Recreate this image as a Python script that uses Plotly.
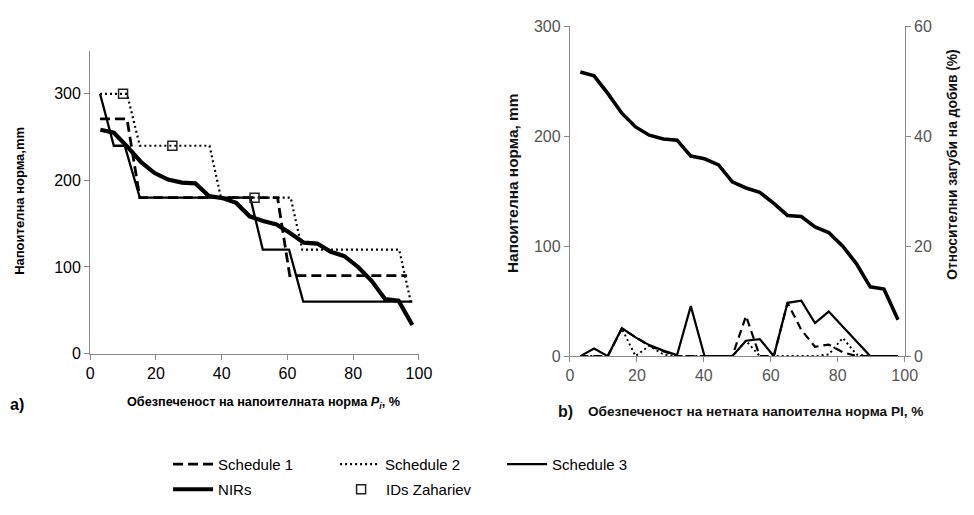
import plotly.graph_objects as go

W, H = 974, 515

# ---------------- data ----------------
# exceedance probability grid (%) used for NIRs and yield losses
prob = [3.1, 7.2, 11.3, 15.5, 19.6, 23.7, 27.9, 32.0, 36.1, 40.2, 44.4, 48.5,
        52.6, 56.7, 60.9, 65.0, 69.1, 73.2, 77.3, 81.5, 85.6, 89.7, 93.8, 98.0]
nirs = [258.5, 255, 239, 221, 208.5, 201, 197.5, 196.5, 182, 179.5, 174, 158.5,
        153, 149, 139, 128, 127, 117.5, 112.5, 100, 84, 63, 61, 33]

# irrigation schedules (vertices of the stepped curves), panel a)
sched1_x = [3, 11.2, 15.1, 57.0, 60.7, 96.4]
sched1_y = [271, 271, 180, 180, 90, 90]
sched2_x = [3, 11.2, 15.1, 36.3, 39.8, 61.0, 64.5, 94.0, 97.5]
sched2_y = [300, 300, 240, 240, 180, 180, 120, 120, 60]
sched3_x = [3, 7.2, 10.5, 15.1, 48.7, 52.5, 60.5, 64.8, 98.0]
sched3_y = [300, 240, 240, 180, 180, 120, 120, 60, 60]

# IDs Zahariev
ids_x = [10, 25, 50]
ids_y = [300, 240, 180]

# relative yield losses (%), panel b)
loss1 = [0, 0, 0, 5.0, 3.4, 1.9, 0.9, 0, 0, 0, 0, 0,
         7.3, 0, 0, 9.7, 4.8, 1.7, 2.1, 0.7, 0, 0, 0, 0]
loss2 = [0, 0, 0, 5.0, 0, 1.9, 0.3, 0, 0, 0, 0, 0,
         2.8, 0, 0, 0, 0, 0, 0.3, 3.3, 0.3, 0, 0, 0]
loss3 = [0, 1.4, 0, 5.1, 3.4, 2.0, 1.0, 0.2, 9.1, 0, 0, 0,
         2.8, 3.1, 0, 9.7, 10.1, 6.0, 8.1, 5.4, 2.7, 0, 0, 0]

x_ticks = [0, 20, 40, 60, 80, 100]
ya_ticks = [0, 100, 200, 300]
yb_ticks = [0, 100, 200, 300]
yb2_ticks = [0, 20, 40, 60]

# ---------------- figure ----------------
FONT = "Liberation Sans, Arial, sans-serif"
fig = go.Figure()

# panel a)
fig.add_trace(go.Scatter(x=sched1_x, y=sched1_y, mode="lines", name="Schedule 1",
                         line=dict(color="black", width=2.8, dash="10px,5px"),
                         xaxis="x", yaxis="y", legend="legend"))
fig.add_trace(go.Scatter(x=sched2_x, y=sched2_y, mode="lines", name="Schedule 2",
                         line=dict(color="black", width=2.2, dash="2px,3px"),
                         xaxis="x", yaxis="y", legend="legend"))
fig.add_trace(go.Scatter(x=sched3_x, y=sched3_y, mode="lines", name="Schedule 3",
                         line=dict(color="black", width=2.3),
                         xaxis="x", yaxis="y", legend="legend"))
fig.add_trace(go.Scatter(x=prob, y=nirs, mode="lines", name="NIRs",
                         line=dict(color="black", width=4.2),
                         xaxis="x", yaxis="y", legend="legend2"))
fig.add_trace(go.Scatter(x=ids_x, y=ids_y, mode="markers", name="IDs Zahariev",
                         marker=dict(symbol="square-open", size=9, color="#222",
                                     line=dict(width=1.5, color="#222")),
                         xaxis="x", yaxis="y", legend="legend2"))

# panel b)
fig.add_trace(go.Scatter(x=prob, y=nirs, mode="lines", showlegend=False,
                         line=dict(color="black", width=3.6),
                         xaxis="x2", yaxis="y2"))
fig.add_trace(go.Scatter(x=prob, y=loss1, mode="lines", showlegend=False,
                         line=dict(color="black", width=2.2, dash="8px,5px"),
                         xaxis="x2", yaxis="y3"))
fig.add_trace(go.Scatter(x=prob, y=loss2, mode="lines", showlegend=False,
                         line=dict(color="black", width=2, dash="2px,3px"),
                         xaxis="x2", yaxis="y3"))
fig.add_trace(go.Scatter(x=prob, y=loss3, mode="lines", showlegend=False,
                         line=dict(color="black", width=2.2),
                         xaxis="x2", yaxis="y3"))

AX = "#8a8a8a"
common_x = dict(range=[0, 100], tickvals=x_ticks, showgrid=False, zeroline=False,
                showline=True, linecolor=AX, linewidth=1.2, ticks="outside",
                ticklen=5, tickcolor=AX)

fig.update_layout(
    width=W, height=H,
    margin=dict(l=0, r=0, t=0, b=0),
    paper_bgcolor="white", plot_bgcolor="white",
    font=dict(family=FONT, color="black"),
    xaxis=dict(domain=[87.7 / W, 422.3 / W], anchor="y",
               tickfont=dict(size=16, color="black"), **common_x),
    yaxis=dict(domain=[1 - 357.3 / H, 1 - 44 / H], anchor="x", range=[0, 350],
               tickvals=ya_ticks, showgrid=False, zeroline=False, showline=True,
               linecolor=AX, linewidth=1.2, ticks="outside", ticklen=5, tickcolor=AX,
               tickfont=dict(size=16, color="black")),
    xaxis2=dict(domain=[576 / W, 916.7 / W], anchor="y2",
                tickfont=dict(size=16, color="#555"), **common_x),
    yaxis2=dict(domain=[1 - 360 / H, 1 - 19 / H], anchor="x2", range=[0, 300],
                tickvals=yb_ticks, showgrid=False, zeroline=False, showline=True,
                linecolor=AX, linewidth=1.2, ticks="outside", ticklen=5, tickcolor=AX,
                tickfont=dict(size=16, color="#555")),
    yaxis3=dict(overlaying="y2", side="right", anchor="x2", range=[0, 60],
                tickvals=yb2_ticks, showgrid=False, zeroline=False, showline=True,
                linecolor=AX, linewidth=1.2, ticks="outside", ticklen=5, tickcolor=AX,
                tickfont=dict(size=16, color="#555")),
    legend=dict(orientation="h", x=167 / W, xanchor="left", y=1 - 472 / H,
                yanchor="middle", font=dict(family=FONT, size=15, color="black"),
                entrywidth=112, entrywidthmode="pixels", bgcolor="rgba(0,0,0,0)",
                itemwidth=40, tracegroupgap=0),
    legend2=dict(orientation="h", x=167 / W, xanchor="left", y=0,
                 yanchor="bottom", font=dict(family=FONT, size=15, color="black"),
                 entrywidth=113, entrywidthmode="pixels", bgcolor="rgba(0,0,0,0)",
                 itemwidth=40, tracegroupgap=0),
)

ann = [
    dict(text="Напоителна норма,mm", x=15.7, y=199, textangle=-90,
         font=dict(size=13, color="black"), bold=True),
    dict(text="Обезпеченост на напоителната норма <i>P<sub>i</sub></i>, %", x=264, y=409,
         font=dict(size=12.7, color="black"), bold=True),
    dict(text="a)", x=13, y=410, font=dict(size=16, color="black"), bold=True),
    dict(text="Напоителна норма, mm", x=517, y=181, textangle=-90,
         font=dict(size=15.4, color="#111"), bold=True),
    dict(text="Относителни загуби на добив (%)", x=965, y=162, textangle=-90,
         font=dict(size=13.8, color="#111"), bold=True),
    dict(text="Обезпеченост на нетната напоителна норма PI, %", x=765, y=417,
         font=dict(size=13.6, color="#111"), bold=True),
    dict(text="b)", x=571, y=417, font=dict(size=16, color="#111"), bold=True),
]
for a in ann:
    txt = a["text"]
    if a.pop("bold", False):
        txt = "<b>" + txt + "</b>"
    fig.add_annotation(text=txt, x=a["x"] / W, y=1 - a["y"] / H, xref="paper",
                       yref="paper", showarrow=False, xanchor="center",
                       yanchor="middle", textangle=a.get("textangle", 0),
                       font=dict(family=FONT, **a["font"]))

fig.write_html(
    "out.html",
    post_script=(
        "document.documentElement.style.overflow='hidden';"
        "document.body.style.margin='0';"
        "document.body.style.overflow='hidden';"
    ),
)
